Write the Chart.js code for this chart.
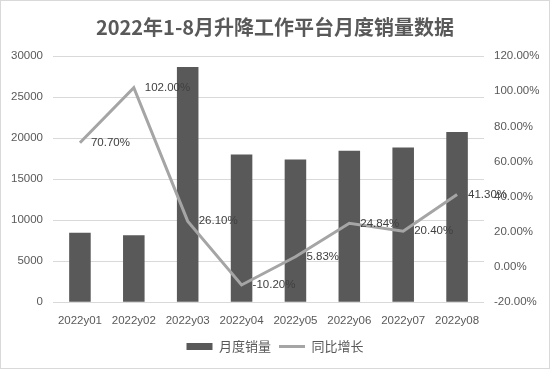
<!DOCTYPE html>
<html>
<head>
<meta charset="utf-8">
<script src="https://cdn.jsdelivr.net/npm/chart.js@4/dist/chart.umd.min.js"></script>
<style>
  html, body { margin: 0; padding: 0; background: #fff; }
  #wrap { width: 550px; height: 369px; box-sizing: border-box; border: 1px solid #d9d9d9; }
</style>
</head>
<body>
<div id="wrap"><canvas id="c"></canvas></div>
<script>
// data
const months = ['2022y01', '2022y02', '2022y03', '2022y04', '2022y05', '2022y06', '2022y07', '2022y08'];
const sales = [8450, 8150, 28650, 18000, 17400, 18450, 18850, 20750];
const yoy = [70.70, 102.00, 26.10, -10.20, 5.83, 24.84, 20.40, 41.30];
const yoyLabels = ['70.70%', '102.00%', '26.10%', '-10.20%', '5.83%', '24.84%', '20.40%', '41.30%'];

const grey = '#595959';
const font = "'Liberation Sans', Arial, sans-serif";

// excel-style labels to the right of each line point
const pointLabels = {
  id: 'pointLabels',
  afterDatasetsDraw(chart) {
    const meta = chart.getDatasetMeta(1);
    const ctx = chart.ctx;
    ctx.save();
    ctx.font = '11.5px ' + font;
    ctx.fillStyle = '#404040';
    ctx.textAlign = 'left';
    ctx.textBaseline = 'middle';
    meta.data.forEach((pt, i) => {
      ctx.fillText(yoyLabels[i], pt.x + 11, pt.y);
    });
    ctx.restore();
  }
};

new Chart(document.getElementById('c'), {
  data: {
    labels: months,
    datasets: [{
      type: 'bar',
      label: '月度销量',
      data: sales,
      backgroundColor: grey,
      yAxisID: 'y',
      barPercentage: 0.8,
      categoryPercentage: 0.5,
      pointStyle: 'rect',
      order: 2
    }, {
      type: 'line',
      label: '同比增长',
      data: yoy,
      borderColor: '#a5a5a5',
      backgroundColor: '#a5a5a5',
      borderWidth: 3,
      pointRadius: 0,
      tension: 0,
      yAxisID: 'y1',
      pointStyle: 'line',
      order: 1
    }]
  },
  options: {
    responsive: true,
    maintainAspectRatio: false,
    animation: false,
    layout: { padding: { left: 0, right: 0, top: 6, bottom: 5 } },
    plugins: {
      title: {
        display: true,
        text: '2022年1-8月升降工作平台月度销量数据',
        color: grey,
        font: { family: "'Noto Sans CJK SC', sans-serif", size: 20, weight: 'bold' },
        padding: { top: 8, bottom: 17 }
      },
      legend: {
        position: 'bottom',
        labels: {
          usePointStyle: true,
          pointStyleWidth: 26,
          boxHeight: 7,
          color: grey,
          padding: 8,
          font: { family: "'Noto Sans CJK SC', serif", size: 13 },
          sort: (a, b) => a.datasetIndex - b.datasetIndex
        }
      },
      tooltip: { enabled: false }
    },
    scales: {
      x: {
        grid: { display: false },
        border: { display: false },
        ticks: { color: grey, font: { family: font, size: 11.5 }, maxRotation: 0, padding: 4 }
      },
      y: {
        position: 'left',
        min: 0, max: 30000,
        ticks: {
          stepSize: 5000, color: grey, font: { family: font, size: 11.5 }, padding: 10,
          callback: v => String(v)
        },
        grid: { color: '#d9d9d9', drawTicks: false },
        border: { display: false },
        afterFit(s) { s.width = 52; }
      },
      y1: {
        position: 'right',
        min: -20, max: 120,
        ticks: {
          stepSize: 20, color: grey, font: { family: font, size: 11.5 }, padding: 10,
          callback: v => v.toFixed(2) + '%'
        },
        grid: { display: false, drawTicks: false },
        border: { display: false },
        afterFit(s) { s.width = 65; }
      }
    }
  },
  plugins: [pointLabels]
});
</script>
</body>
</html>
